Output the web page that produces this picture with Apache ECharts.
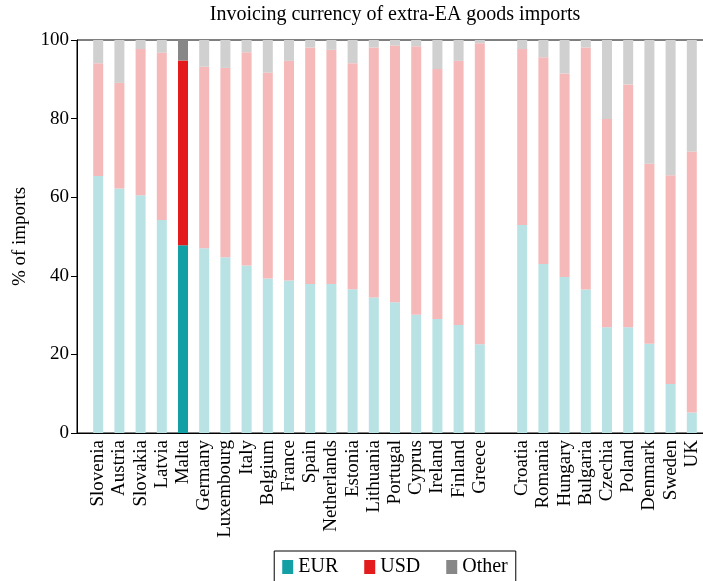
<!DOCTYPE html>
<html>
<head>
<meta charset="utf-8">
<script src="https://cdn.jsdelivr.net/npm/echarts@6/dist/echarts.min.js"></script>
<style>
  html, body { margin: 0; padding: 0; overflow: hidden; background: #fff; }
  #main { width: 790px; height: 581px; }
</style>
</head>
<body>
<div id="main"></div>
<script>
// countries in plot order, '' marks the gap between EA and non-EA
var countries = ['Slovenia', 'Austria', 'Slovakia', 'Latvia', 'Malta', 'Germany', 'Luxembourg', 'Italy',
  'Belgium', 'France', 'Spain', 'Netherlands', 'Estonia', 'Lithuania', 'Portugal', 'Cyprus', 'Ireland',
  'Finland', 'Greece', '', 'Croatia', 'Romania', 'Hungary', 'Bulgaria', 'Czechia', 'Poland', 'Denmark',
  'Sweden', 'UK'];
var eur = [65.4, 62.2, 60.5, 54.2, 47.8, 47.0, 44.7, 42.6, 39.3, 38.8, 37.9, 37.9, 36.6, 34.5, 33.3, 30.1,
  29.0, 27.5, 22.6, null, 52.9, 43.0, 39.7, 36.5, 26.9, 26.9, 22.7, 12.5, 5.2];
var usd = [28.7, 26.9, 37.2, 42.6, 47.0, 46.2, 48.2, 54.3, 52.4, 55.9, 60.2, 59.6, 57.5, 63.6, 65.3, 68.3,
  63.6, 67.2, 76.6, null, 44.8, 52.6, 51.8, 61.6, 53.0, 61.8, 45.8, 53.1, 66.4];
var other = [5.9, 10.9, 2.3, 3.2, 5.2, 6.8, 7.1, 3.1, 8.3, 5.3, 1.9, 2.5, 5.9, 1.9, 1.4, 1.6,
  7.4, 5.3, 0.8, null, 2.3, 4.4, 8.5, 1.9, 20.1, 11.3, 31.5, 34.4, 28.4];
var highlight = 'Malta';

var strong = { EUR: '#12a0a5', USD: '#e31b1d', Other: '#878787' };
var light = { EUR: '#b8e2e4', USD: '#f6b9ba', Other: '#d0d0d0' };
var font = 'Liberation Serif';

var chart = echarts.init(document.getElementById('main'));

// one empty slot on each end like the original axis padding
var axisData = [''].concat(countries, ['']);

function makeData(values, name) {
  var out = [null];
  for (var i = 0; i < values.length; i++) {
    if (countries[i] === highlight) {
      out.push(values[i]);
    } else {
      out.push({ value: values[i], itemStyle: { color: light[name] } });
    }
  }
  out.push(null);
  return out;
}

function makeSeries(name, values) {
  return {
    name: name,
    type: 'bar',
    stack: 'total',
    barWidth: 10,
    itemStyle: { color: strong[name] },
    data: makeData(values, name)
  };
}

option = {
  animation: false,
  textStyle: { fontFamily: font },
  title: {
    text: 'Invoicing currency of extra-EA goods imports',
    left: 'center',
    top: 0,
    textStyle: { fontFamily: font, fontSize: 20, fontWeight: 'normal', color: '#000' }
  },
  legend: {
    left: 'center',
    top: 551,
    itemWidth: 11,
    itemHeight: 14,
    itemGap: 26,
    icon: 'rect',
    borderColor: '#000',
    borderWidth: 1,
    borderRadius: 0,
    padding: [6, 8, 20, 8],
    textStyle: { fontFamily: font, fontSize: 20, color: '#000' },
    data: ['EUR', 'USD', 'Other']
  },
  grid: {
    left: 77,
    right: 77,
    top: 40,
    bottom: 148,
    show: true,
    borderColor: '#000',
    borderWidth: 1
  },
  xAxis: {
    type: 'category',
    data: axisData,
    boundaryGap: false,
    axisLine: { lineStyle: { color: '#000', width: 1 } },
    axisTick: { show: false },
    axisLabel: {
      interval: 0,
      rotate: 90,
      margin: 7,
      color: '#000',
      fontFamily: font,
      fontSize: 19
    },
    splitLine: { show: false }
  },
  yAxis: {
    type: 'value',
    min: 0,
    max: 100,
    interval: 20,
    name: '% of imports',
    nameLocation: 'middle',
    nameGap: 47,
    nameTextStyle: { fontFamily: font, fontSize: 19, color: '#000' },
    axisLine: { show: true, lineStyle: { color: '#000', width: 1 } },
    axisTick: { show: true, length: 6, lineStyle: { color: '#000' } },
    axisLabel: { margin: 8, color: '#000', fontFamily: font, fontSize: 19 },
    splitLine: { show: false }
  },
  series: [
    makeSeries('EUR', eur),
    makeSeries('USD', usd),
    makeSeries('Other', other)
  ]
};

chart.setOption(option);
</script>
</body>
</html>
